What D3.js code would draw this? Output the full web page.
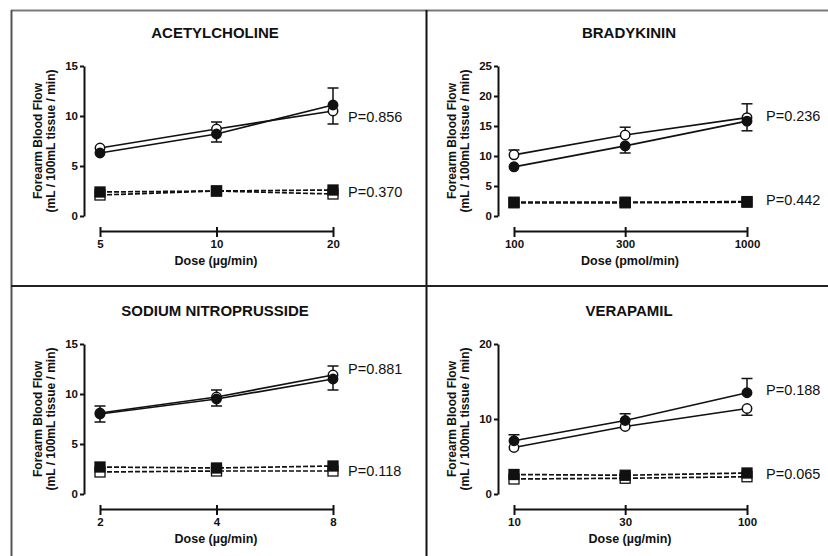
<!DOCTYPE html>
<html>
<head>
<meta charset="utf-8">
<script src="https://cdn.jsdelivr.net/npm/d3@7"></script>
<style>
  body { margin: 0; background: #fff; }
  svg text { font-family: Arial, 'Liberation Sans', sans-serif; fill: #111; }
</style>
</head>
<body>
<div id="main"></div>
<script>
// data

const titles = ['ACETYLCHOLINE', 'BRADYKININ', 'SODIUM NITROPRUSSIDE', 'VERAPAMIL'];
const doseLabels = ['Dose (µg/min)', 'Dose (pmol/min)', 'Dose (µg/min)', 'Dose (µg/min)'];
const doses = [[5, 10, 20], [100, 300, 1000], [2, 4, 8], [10, 30, 100]];
const yMaxes = [15, 25, 15, 20];
const yTicks = [[0, 5, 10, 15], [0, 5, 10, 15, 20, 25], [0, 5, 10, 15], [0, 10, 20]];

const filledCircle = [[6.3, 8.2, 11.1], [8.2, 11.7, 15.8], [8.0, 9.5, 11.5], [7.1, 9.8, 13.5]];
const openCircle = [[6.8, 8.7, 10.5], [10.2, 13.5, 16.4], [8.1, 9.7, 11.9], [6.2, 9.0, 11.4]];
// error bars: + goes up, - goes down, 0 hidden
const filledCircleErr = [[0, -0.8, 1.7], [0, -1.2, -1.6], [-0.8, -0.7, -1.1], [0.8, 0.9, 1.9]];
const openCircleErr = [[0, 0.7, -1.3], [0.8, 1.3, 2.3], [0.7, 0.7, 0.9], [0, 0, -0.9]];

const filledSquare = [[2.4, 2.5, 2.6], [2.3, 2.3, 2.4], [2.7, 2.6, 2.8], [2.6, 2.5, 2.8]];
const openSquare = [[2.1, 2.5, 2.2], [2.2, 2.2, 2.3], [2.2, 2.3, 2.3], [2.0, 2.1, 2.3]];

const pCircle = ['P=0.856', 'P=0.236', 'P=0.881', 'P=0.188'];
const pSquare = ['P=0.370', 'P=0.442', 'P=0.118', 'P=0.065'];
// where the P labels sit, in y units
const pCircleAt = [9.8, 16.5, 12.4, 13.7];
const pSquareAt = [2.3, 2.5, 2.2, 2.5];

// SVG

const w = 828;
const h = 556;
const origins = [[0, 0], [414, 0], [0, 278], [414, 278]];

const svg = d3.select('#main')
    .append('svg')
    .attr('width', w)
    .attr('height', h)

// panel frame
svg.append('line').attr('x1', 11).attr('x2', w).attr('y1', 10.5).attr('y2', 10.5)
    .attr('stroke', '#7a7a7a').attr('stroke-width', 2)
svg.append('line').attr('x1', 11.5).attr('x2', 11.5).attr('y1', 10).attr('y2', h)
    .attr('stroke', '#555').attr('stroke-width', 2)
svg.append('line').attr('x1', 426.5).attr('x2', 426.5).attr('y1', 10).attr('y2', h)
    .attr('stroke', '#111').attr('stroke-width', 2)
svg.append('line').attr('x1', 11).attr('x2', w).attr('y1', 286).attr('y2', 286)
    .attr('stroke', '#222').attr('stroke-width', 2)

const drawPanel = (i) => {
    const [ox, oy] = origins[i];
    const g = svg.append('g').attr('transform', `translate(${ox}, ${oy})`);

    const x = d3.scaleLog().domain([doses[i][0], doses[i][2]]).range([100, 333]);
    const y = d3.scaleLinear().domain([0, yMaxes[i]]).range([216, 66]);

    g.append('text')
        .attr('x', 215).attr('y', 38)
        .attr('text-anchor', 'middle')
        .style('font-size', '15px').style('font-weight', 'bold')
        .text(titles[i])

    // axes
    const yAxis = d3.axisLeft(y).tickValues(yTicks[i]).tickSize(4).tickSizeOuter(0).tickPadding(2);
    const gy = g.append('g').attr('transform', 'translate(84, 0)').call(yAxis);

    const xAxis = d3.axisBottom(x).tickValues(doses[i]).tickFormat(d3.format('d'))
        .tickSize(6).tickSizeOuter(0).tickPadding(3);
    const gx = g.append('g').attr('transform', 'translate(0, 231)').call(xAxis);

    [gx, gy].forEach(a => {
        a.selectAll('path').attr('stroke', '#111').attr('stroke-width', 2)
        a.selectAll('line').attr('stroke', '#111').attr('stroke-width', 2)
        a.selectAll('text').style('font-size', '11.5px').style('font-weight', 'bold')
            .style('font-family', "Arial, 'Liberation Sans', sans-serif").attr('fill', '#111')
    })
    // end ticks poke above the x axis
    gx.selectAll('.tick line').attr('y1', -4)

    g.append('text')
        .attr('x', 216).attr('y', 265)
        .attr('text-anchor', 'middle')
        .style('font-size', '12.5px').style('font-weight', 'bold')
        .text(doseLabels[i])

    const yl = g.append('text')
        .attr('transform', 'translate(42, 141) rotate(-90)')
        .attr('text-anchor', 'middle')
        .style('font-size', '12px').style('font-weight', 'bold')
    yl.append('tspan').attr('x', 0).attr('dy', 0).text('Forearm Blood Flow')
    yl.append('tspan').attr('x', 0).attr('dy', 13).text('(mL / 100mL tissue / min)')

    const line = d3.line().x((d, j) => x(doses[i][j])).y(d => y(d));

    // error bars
    const drawErr = (vals, errs) => {
        vals.forEach((v, j) => {
            const e = errs[j];
            if (e === 0) return;
            const cx = x(doses[i][j]);
            g.append('line').attr('x1', cx).attr('x2', cx)
                .attr('y1', y(v)).attr('y2', y(v + e))
                .attr('stroke', '#111').attr('stroke-width', 1.5)
            g.append('line').attr('x1', cx - 5.5).attr('x2', cx + 5.5)
                .attr('y1', y(v + e)).attr('y2', y(v + e))
                .attr('stroke', '#111').attr('stroke-width', 1.5)
        })
    }
    drawErr(openCircle[i], openCircleErr[i]);
    drawErr(filledCircle[i], filledCircleErr[i]);

    // lines
    [openCircle[i], filledCircle[i]].forEach(vals => {
        g.append('path').attr('d', line(vals))
            .attr('fill', 'none').attr('stroke', '#111').attr('stroke-width', 1.7)
    });
    [openSquare[i], filledSquare[i]].forEach(vals => {
        g.append('path').attr('d', line(vals))
            .attr('fill', 'none').attr('stroke', '#111').attr('stroke-width', 1.7)
            .attr('stroke-dasharray', '5,2')
    });

    // markers
    const circles = (vals, fill) => {
        g.selectAll(null).data(vals).enter().append('circle')
            .attr('cx', (d, j) => x(doses[i][j]))
            .attr('cy', d => y(d))
            .attr('r', 4.7)
            .attr('fill', fill).attr('stroke', '#111').attr('stroke-width', 1.5)
    }
    const squares = (vals, fill) => {
        g.selectAll(null).data(vals).enter().append('rect')
            .attr('x', (d, j) => x(doses[i][j]) - 5)
            .attr('y', d => y(d) - 5)
            .attr('width', 10).attr('height', 10)
            .attr('fill', fill).attr('stroke', '#111').attr('stroke-width', 1.3)
    }
    circles(openCircle[i], '#fff');
    circles(filledCircle[i], '#111');
    squares(openSquare[i], '#fff');
    squares(filledSquare[i], '#111');

    // P values
    g.append('text')
        .attr('x', i % 2 === 0 ? 348 : 352).attr('y', y(pCircleAt[i]))
        .attr('dominant-baseline', 'middle')
        .style('font-size', '14.5px')
        .text(pCircle[i])
    g.append('text')
        .attr('x', i % 2 === 0 ? 348 : 352).attr('y', y(pSquareAt[i]))
        .attr('dominant-baseline', 'middle')
        .style('font-size', '14.5px')
        .text(pSquare[i])
}

titles.forEach((t, i) => drawPanel(i));
</script>
</body>
</html>
